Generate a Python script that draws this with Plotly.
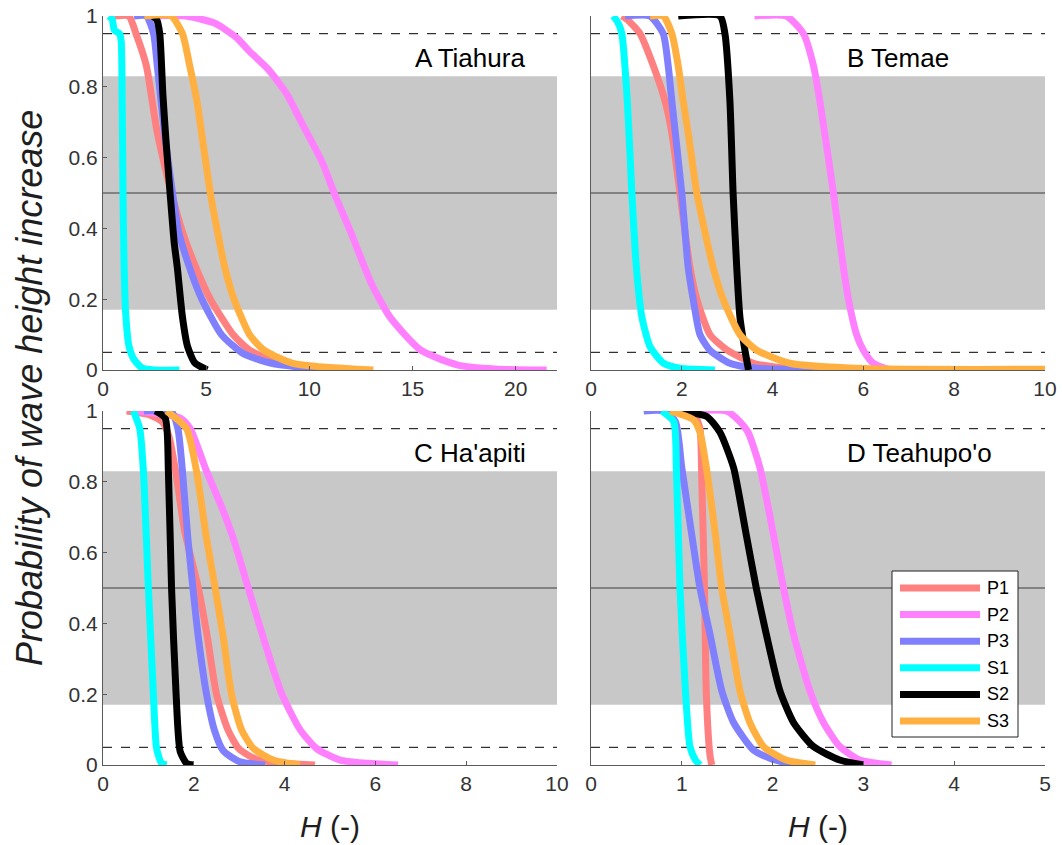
import plotly.graph_objects as go

# ---------------- data (H values, probability values) ----------------
series_names = ["P1", "P2", "P3", "S1", "S2", "S3"]
series_colors = ["#ff8080", "#ff80ff", "#8080ff", "#00ffff", "#000000", "#ffb040"]
panel_titles = ["A Tiahura", "B Temae", "C Ha'apiti", "D Teahupo'o"]

# Panel A
hA_P1 = [0.55, 1.25, 1.6, 2.1, 2.6, 3.1, 3.55, 3.85, 4.5, 5.2, 6.3, 7.1, 8.5, 10.3]
pA_P1 = [1.0, 1.0, 0.95, 0.86, 0.68, 0.55, 0.45, 0.39, 0.29, 0.2, 0.1, 0.056, 0.02, 0.0]
hA_P2 = [2.3, 4.0, 5.4, 6.45, 7.1, 8.0, 8.9, 9.7, 10.6, 11.2, 12.0, 13.0, 13.9, 15.4, 17.2, 19.0, 21.5]
pA_P2 = [1.0, 1.0, 0.98, 0.94, 0.9, 0.85, 0.78, 0.69, 0.59, 0.5, 0.39, 0.245, 0.15, 0.056, 0.014, 0.003, 0.0]
hA_P3 = [1.5, 2.1, 2.45, 2.63, 2.98, 3.32, 3.67, 4.19, 4.79, 5.74, 6.78, 8.17, 10.9]
pA_P3 = [1.0, 1.0, 0.95, 0.86, 0.67, 0.52, 0.39, 0.29, 0.2, 0.1, 0.047, 0.019, 0.0]
hA_S1 = [0.3, 0.45, 0.55, 0.8, 0.88, 0.93, 0.97, 1.02, 1.1, 1.25, 1.5, 1.9, 2.5, 3.7]
pA_S1 = [1.0, 0.99, 0.96, 0.95, 0.93, 0.75, 0.5, 0.3, 0.16, 0.07, 0.03, 0.005, 0.0, 0.0]
hA_S2 = [2.4, 2.6, 2.75, 2.9, 3.05, 3.25, 3.45, 3.6, 3.85, 4.1, 4.45, 5.05]
pA_S2 = [1.0, 0.99, 0.95, 0.78, 0.65, 0.5, 0.36, 0.29, 0.15, 0.066, 0.02, 0.0]
hA_S3 = [2.0, 3.3, 3.85, 4.2, 4.55, 4.85, 5.2, 5.55, 5.9, 6.35, 7.1, 7.8, 9.2, 13.1]
pA_S3 = [1.0, 1.0, 0.95, 0.86, 0.76, 0.64, 0.5, 0.39, 0.29, 0.2, 0.1, 0.056, 0.019, 0.0]

# Panel B
hB_P1 = [0.68, 0.8, 1.08, 1.37, 1.63, 1.78, 1.96, 2.07, 2.18, 2.33, 2.62, 3.0, 3.58, 4.6]
pB_P1 = [1.0, 0.99, 0.95, 0.86, 0.76, 0.67, 0.5, 0.39, 0.29, 0.2, 0.1, 0.056, 0.019, 0.0]
hB_P2 = [3.6, 4.3, 4.68, 4.9, 5.04, 5.34, 5.56, 5.67, 5.85, 6.0, 6.22, 6.6]
pB_P2 = [1.0, 1.0, 0.95, 0.86, 0.76, 0.5, 0.29, 0.2, 0.1, 0.056, 0.019, 0.0]
hB_P3 = [0.75, 1.3, 1.59, 1.7, 1.78, 2.0, 2.14, 2.25, 2.4, 2.62, 3.06, 3.65, 5.3]
pB_P3 = [1.0, 1.0, 0.95, 0.86, 0.76, 0.5, 0.29, 0.2, 0.1, 0.056, 0.019, 0.005, 0.0]
hB_S1 = [0.49, 0.6, 0.68, 0.8, 0.9, 1.0, 1.12, 1.3, 1.6, 1.96, 2.73]
pB_S1 = [1.0, 0.98, 0.95, 0.76, 0.5, 0.29, 0.15, 0.066, 0.019, 0.005, 0.0]
hB_S2 = [1.92, 2.84, 2.95, 3.06, 3.13, 3.21, 3.28, 3.39, 3.47]
pB_S2 = [1.0, 1.0, 0.95, 0.76, 0.5, 0.29, 0.15, 0.056, 0.0]
hB_S3 = [1.3, 1.59, 1.78, 1.92, 2.03, 2.14, 2.33, 2.51, 2.69, 2.91, 3.28, 3.65, 4.38, 6.0, 10.0]
pB_S3 = [1.0, 1.0, 0.95, 0.86, 0.76, 0.67, 0.5, 0.39, 0.29, 0.2, 0.1, 0.056, 0.019, 0.004, 0.002]

# Panel C
hC_P1 = [0.52, 1.0, 1.3, 1.45, 1.6, 1.8, 2.1, 2.3, 2.5, 2.75, 3.0, 3.4, 4.0, 4.67]
pC_P1 = [1.0, 0.99, 0.97, 0.93, 0.83, 0.66, 0.5, 0.36, 0.2, 0.1, 0.045, 0.015, 0.005, 0.0]
hC_P2 = [0.74, 1.7, 1.92, 2.28, 2.61, 2.87, 3.2, 3.53, 3.94, 4.34, 4.7, 5.22, 6.5]
pC_P2 = [1.0, 0.98, 0.95, 0.83, 0.73, 0.64, 0.5, 0.36, 0.2, 0.1, 0.047, 0.014, 0.0]
hC_P3 = [0.9, 1.5, 1.65, 1.75, 1.87, 1.98, 2.1, 2.28, 2.45, 2.65, 3.0, 3.57]
pC_P3 = [1.0, 1.0, 0.95, 0.83, 0.64, 0.5, 0.36, 0.2, 0.1, 0.04, 0.01, 0.0]
hC_S1 = [0.67, 0.81, 0.89, 1.0, 1.11, 1.18, 1.29, 1.4]
pC_S1 = [1.0, 0.95, 0.83, 0.5, 0.2, 0.047, 0.005, 0.0]
hC_S2 = [1.15, 1.37, 1.44, 1.51, 1.61, 1.7, 1.84, 1.99]
pC_S2 = [1.0, 0.98, 0.83, 0.5, 0.2, 0.038, 0.005, 0.0]
hC_S3 = [1.4, 1.84, 2.06, 2.28, 2.47, 2.65, 2.83, 3.05, 3.31, 3.75, 4.34]
pC_S3 = [1.0, 0.95, 0.83, 0.64, 0.5, 0.36, 0.2, 0.1, 0.047, 0.014, 0.0]

# Panel D
hD_P1 = [1.13, 1.2, 1.22, 1.25, 1.27, 1.31, 1.33]
pD_P1 = [1.0, 0.95, 0.8, 0.5, 0.2, 0.028, 0.0]
hD_P2 = [1.13, 1.49, 1.64, 1.73, 1.86, 2.01, 2.12, 2.23, 2.41, 2.56, 2.74, 2.96, 3.31]
pD_P2 = [1.0, 1.0, 0.97, 0.94, 0.84, 0.65, 0.5, 0.37, 0.21, 0.12, 0.052, 0.014, 0.0]
hD_P3 = [0.58, 0.8, 0.93, 1.0, 1.11, 1.2, 1.31, 1.44, 1.57, 1.79, 1.97, 2.23]
pD_P3 = [1.0, 1.0, 0.97, 0.84, 0.65, 0.5, 0.37, 0.21, 0.12, 0.042, 0.019, 0.0]
hD_S1 = [0.78, 0.91, 0.94, 0.98, 1.04, 1.09, 1.15, 1.2]
pD_S1 = [1.0, 0.97, 0.84, 0.5, 0.21, 0.052, 0.014, 0.0]
hD_S2 = [0.89, 1.27, 1.42, 1.57, 1.64, 1.71, 1.82, 1.93, 2.08, 2.23, 2.45, 2.74, 3.0]
pD_S2 = [1.0, 0.985, 0.94, 0.84, 0.75, 0.65, 0.5, 0.37, 0.21, 0.12, 0.052, 0.014, 0.0]
hD_S3 = [0.87, 1.13, 1.2, 1.27, 1.37, 1.44, 1.53, 1.64, 1.75, 1.9, 2.15, 2.47]
pD_S3 = [1.0, 0.975, 0.94, 0.84, 0.65, 0.5, 0.37, 0.21, 0.12, 0.052, 0.014, 0.0]

x_ranges = [[0, 22], [0, 10], [0, 10], [0, 5]]
x_tickvals = [[0, 5, 10, 15, 20], [0, 2, 4, 6, 8, 10], [0, 2, 4, 6, 8, 10], [0, 1, 2, 3, 4, 5]]
y_tickvals = [0, 0.2, 0.4, 0.6, 0.8, 1]
y_ticktext = ["0", "0.2", "0.4", "0.6", "0.8", "1"]
band_low, band_high = 0.17, 0.83
dash_levels = [0.95, 0.05]
mid_level = 0.5
label_pos_x = [15, 5.6, 6.8, 2.8]
label_pos_y = 0.88

panels = [
    [(hA_P1, pA_P1), (hA_P2, pA_P2), (hA_P3, pA_P3), (hA_S1, pA_S1), (hA_S2, pA_S2), (hA_S3, pA_S3)],
    [(hB_P1, pB_P1), (hB_P2, pB_P2), (hB_P3, pB_P3), (hB_S1, pB_S1), (hB_S2, pB_S2), (hB_S3, pB_S3)],
    [(hC_P1, pC_P1), (hC_P2, pC_P2), (hC_P3, pC_P3), (hC_S1, pC_S1), (hC_S2, pC_S2), (hC_S3, pC_S3)],
    [(hD_P1, pD_P1), (hD_P2, pD_P2), (hD_P3, pD_P3), (hD_S1, pD_S1), (hD_S2, pD_S2), (hD_S3, pD_S3)],
]

# ---------------- layout geometry (window pixels) ----------------
W, H = 1062, 845
PLOT_L, PLOT_R, PLOT_T, PLOT_B = 103, 1045, 16, 765
ML, MT = PLOT_L, PLOT_T
MR, MB = W - PLOT_R, H - PLOT_B
PW, PH = PLOT_R - PLOT_L, PLOT_B - PLOT_T


def px(x):
    return (x - PLOT_L) / PW


def py(y):
    return (PLOT_B - y) / PH


x_domains = [[0, px(557)], [px(591), 1.0], [0, px(557)], [px(591), 1.0]]
y_domains = [[py(370), 1.0], [py(370), 1.0], [0, py(411)], [0, py(411)]]

FONT = "Liberation Sans, Arial, sans-serif"
AXC = "#5a5a5a"
LW = 7

fig = go.Figure()
layout = dict(
    width=W, height=H,
    margin=dict(l=ML, r=MR, t=MT, b=MB, autoexpand=False),
    paper_bgcolor="white", plot_bgcolor="rgba(0,0,0,0)",
    showlegend=False,
    font=dict(family=FONT, color="#333"),
)
shapes = []
annotations = []

for k in range(4):
    sfx = "" if k == 0 else str(k + 1)
    xname, yname = "x" + sfx, "y" + sfx
    left = k in (0, 2)
    layout["xaxis" + sfx] = dict(
        domain=x_domains[k], anchor=yname, range=x_ranges[k], automargin=False,
        tickvals=x_tickvals[k], ticks="inside", ticklen=4, tickcolor=AXC,
        showline=True, linecolor=AXC, linewidth=1, showgrid=False, zeroline=False,
        tickfont=dict(size=21, color="#333", family=FONT),
    )
    layout["yaxis" + sfx] = dict(
        domain=y_domains[k], anchor=xname, range=[0, 1], automargin=False,
        tickvals=y_tickvals if left else [], ticktext=y_ticktext if left else [],
        ticks="inside" if left else "", ticklen=4, tickcolor=AXC,
        showticklabels=left,
        showline=True, linecolor=AXC, linewidth=1, showgrid=False, zeroline=False,
        tickfont=dict(size=21, color="#333", family=FONT),
    )
    shapes.append(dict(type="rect", xref=xname + " domain", yref=yname, x0=0, x1=1,
                       y0=band_low, y1=band_high, fillcolor="#c8c8c8", line=dict(width=0), layer="below"))
    for lv in dash_levels:
        shapes.append(dict(type="line", xref=xname + " domain", yref=yname, x0=0, x1=1,
                           y0=lv, y1=lv, line=dict(color="#000", width=1, dash="dash"), layer="below"))
    shapes.append(dict(type="line", xref=xname + " domain", yref=yname, x0=0, x1=1,
                       y0=mid_level, y1=mid_level, line=dict(color="#3c3c3c", width=1.2), layer="below"))
    for (hs, ps), name, col in zip(panels[k], series_names, series_colors):
        fig.add_trace(go.Scatter(
            x=hs, y=ps, mode="lines", name=name, xaxis=xname, yaxis=yname,
            line=dict(color=col, width=LW, shape="spline", smoothing=0.6),
            showlegend=False, hoverinfo="x+y+name",
        ))
    annotations.append(dict(text=panel_titles[k], x=label_pos_x[k], y=label_pos_y,
                            xref=xname, yref=yname, xanchor="left", yanchor="middle",
                            showarrow=False, font=dict(size=26, color="#000", family=FONT)))

# axis titles
annotations.append(dict(text="<i>Probability of wave height increase</i>", textangle=-90,
                        x=px(30), y=py(388), xref="paper", yref="paper",
                        xanchor="center", yanchor="middle", showarrow=False,
                        font=dict(size=36, color="#1e1e1e", family=FONT)))
for cx in (330, 818):
    annotations.append(dict(text="<i>H</i> (-)", x=px(cx), y=py(826), xref="paper", yref="paper",
                            xanchor="center", yanchor="middle", showarrow=False,
                            font=dict(size=30, color="#1e1e1e", family=FONT)))

# legend box (drawn inside panel D)
leg_x0, leg_x1, leg_y0, leg_y1 = 892, 1018, 571, 737
shapes.append(dict(type="rect", xref="paper", yref="paper", x0=px(leg_x0), x1=px(leg_x1),
                   y0=py(leg_y1), y1=py(leg_y0), fillcolor="white",
                   line=dict(color="#222", width=1), layer="above"))
for i, (name, col) in enumerate(zip(series_names, series_colors)):
    yy = 588 + i * 26.6
    shapes.append(dict(type="line", xref="paper", yref="paper", x0=px(900), x1=px(980),
                       y0=py(yy), y1=py(yy), line=dict(color=col, width=LW), layer="above"))
    annotations.append(dict(text=name, x=px(985), y=py(yy), xref="paper", yref="paper",
                            xanchor="left", yanchor="middle", showarrow=False,
                            font=dict(size=18, color="#000", family=FONT)))

layout["shapes"] = shapes
layout["annotations"] = annotations
fig.update_layout(**layout)
fig.write_html(
    "out.html",
    config={"displayModeBar": False},
    post_script="document.body.style.margin='0';document.body.style.overflow='hidden';",
)
